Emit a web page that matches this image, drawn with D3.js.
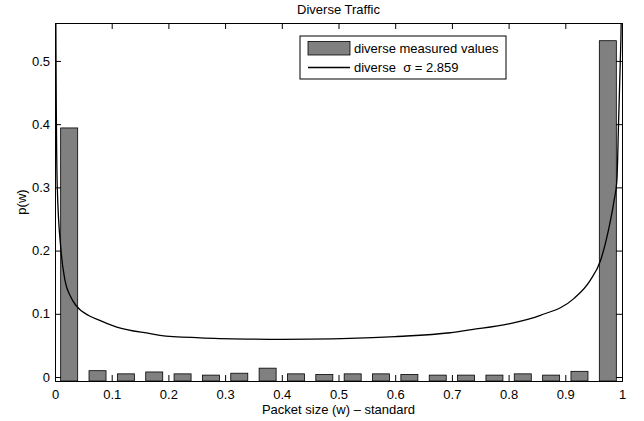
<!DOCTYPE html>
<html>
<head>
<meta charset="utf-8">
<script src="https://cdn.jsdelivr.net/npm/d3@7"></script>
<style>
  body { margin: 0; background: #fff; }
  text { font-family: "Liberation Sans", Arial, sans-serif; font-size: 13px; fill: #000; }
</style>
</head>
<body>
<svg id="chart" width="644" height="421"></svg>
<script>
// histogram bins (bin centres) and measured probabilities
var binCenters = [0.025, 0.075, 0.125, 0.175, 0.225, 0.275, 0.325, 0.375, 0.425, 0.475,
                  0.525, 0.575, 0.625, 0.675, 0.725, 0.775, 0.825, 0.875, 0.925, 0.975];
var measured = [0.394, 0.010, 0.005, 0.008, 0.005, 0.003, 0.006, 0.014, 0.005, 0.004,
                0.005, 0.005, 0.004, 0.003, 0.003, 0.003, 0.005, 0.003, 0.009, 0.532];

// fitted curve
var curveX = [0.0010, 0.0015, 0.0018, 0.004, 0.0106, 0.0176, 0.027, 0.038, 0.06, 0.079, 0.109,
              0.168, 0.185, 0.256, 0.344, 0.40, 0.45, 0.52, 0.60, 0.697, 0.735, 0.80,
              0.856, 0.915, 0.944, 0.962, 0.976, 0.986, 0.991, 0.994, 0.997, 0.9985, 0.999];
var curveY = [0.70, 0.56, 0.50, 0.30, 0.200, 0.153, 0.128, 0.112, 0.097, 0.0896, 0.079,
              0.0686, 0.066, 0.0620, 0.0600, 0.0595, 0.0598, 0.0610, 0.0640, 0.0700, 0.0749, 0.084,
              0.0975, 0.124, 0.153, 0.184, 0.232, 0.279, 0.311, 0.405, 0.50, 0.56, 0.70];

var xTicks = [0, 0.1, 0.2, 0.3, 0.4, 0.5, 0.6, 0.7, 0.8, 0.9, 1];
var xTickLabels = ["0", "0.1", "0.2", "0.3", "0.4", "0.5", "0.6", "0.7", "0.8", "0.9", "1"];
var yTicks = [0, 0.1, 0.2, 0.3, 0.4, 0.5];
var yTickLabels = ["0", "0.1", "0.2", "0.3", "0.4", "0.5"];

var binWidth = 0.03;
var sigma = "2.859";

var svg = d3.select("#chart");
var plotLeft = 55, plotRight = 622, plotTop = 23, plotBottom = 381;
var tickLen = 6;

var x = d3.scaleLinear().domain([0, 1]).range([plotLeft, plotRight]);
var y = d3.scaleLinear().domain([-0.0063, 0.56]).range([plotBottom, plotTop]);

svg.append("clipPath").attr("id", "plotclip")
  .append("rect")
  .attr("x", plotLeft).attr("y", plotTop)
  .attr("width", plotRight - plotLeft).attr("height", plotBottom - plotTop);

// bars
svg.append("g").selectAll("rect")
  .data(binCenters)
  .join("rect")
  .attr("x", function(d) { return x(d - binWidth / 2); })
  .attr("width", function(d) { return x(d + binWidth / 2) - x(d - binWidth / 2); })
  .attr("y", function(d, i) { return y(measured[i]); })
  .attr("height", function(d, i) { return y.range()[0] - y(measured[i]); })
  .attr("fill", "#808080")
  .attr("stroke", "#000")
  .attr("stroke-width", 0.8);

// fitted curve
var pts = curveX.map(function(d, i) { return [d, curveY[i]]; });
svg.append("path")
  .datum(pts)
  .attr("clip-path", "url(#plotclip)")
  .attr("fill", "none")
  .attr("stroke", "#000")
  .attr("stroke-width", 1.3)
  .attr("d", d3.line()
    .x(function(d) { return x(d[0]); })
    .y(function(d) { return y(d[1]); })
    .curve(d3.curveMonotoneX));

// axes (box with inward ticks on all sides)
svg.append("g")
  .attr("transform", "translate(0," + plotBottom + ")")
  .call(d3.axisBottom(x).tickValues(xTicks).tickSize(-tickLen).tickPadding(9)
    .tickFormat(function(d, i) { return xTickLabels[i]; }));
svg.append("g")
  .attr("transform", "translate(0," + plotTop + ")")
  .call(d3.axisTop(x).tickValues(xTicks).tickSize(-tickLen).tickFormat(""));
svg.append("g")
  .attr("transform", "translate(" + plotLeft + ",0)")
  .call(d3.axisLeft(y).tickValues(yTicks).tickSize(-tickLen).tickPadding(5)
    .tickFormat(function(d, i) { return yTickLabels[i]; }));
svg.append("g")
  .attr("transform", "translate(" + plotRight + ",0)")
  .call(d3.axisRight(y).tickValues(yTicks).tickSize(-tickLen).tickFormat(""));

svg.selectAll(".domain").attr("stroke", "#000").attr("stroke-width", 1);
svg.selectAll(".tick line").attr("stroke", "#000").attr("stroke-width", 1);
svg.selectAll(".tick text")
  .attr("font-family", "Liberation Sans, Arial, sans-serif")
  .attr("font-size", 13)
  .attr("fill", "#000");

// titles
svg.append("text")
  .attr("x", (plotLeft + plotRight) / 2).attr("y", 14)
  .attr("text-anchor", "middle")
  .text("Diverse Traffic");
svg.append("text")
  .attr("x", (plotLeft + plotRight) / 2).attr("y", 414)
  .attr("text-anchor", "middle")
  .text("Packet size (w) \u2013 standard");
svg.append("text")
  .attr("transform", "translate(26," + (plotTop + plotBottom) / 2 + ") rotate(-90)")
  .attr("text-anchor", "middle")
  .text("p(w)");

// legend
var lg = svg.append("g").attr("transform", "translate(300,36)");
lg.append("rect")
  .attr("width", 206).attr("height", 43)
  .attr("fill", "#fff").attr("stroke", "#000").attr("stroke-width", 1);
lg.append("rect")
  .attr("x", 8).attr("y", 5.5).attr("width", 42).attr("height", 13.5)
  .attr("fill", "#808080").attr("stroke", "#000").attr("stroke-width", 0.8);
lg.append("text").attr("x", 54).attr("y", 17).text("diverse measured values");
lg.append("line")
  .attr("x1", 8).attr("x2", 50).attr("y1", 31.5).attr("y2", 31.5)
  .attr("stroke", "#000").attr("stroke-width", 1.3);
lg.append("text").attr("x", 54).attr("y", 36)
  .attr("xml:space", "preserve").style("white-space", "pre")
  .text("diverse  \u03c3 = " + sigma);
</script>
</body>
</html>
